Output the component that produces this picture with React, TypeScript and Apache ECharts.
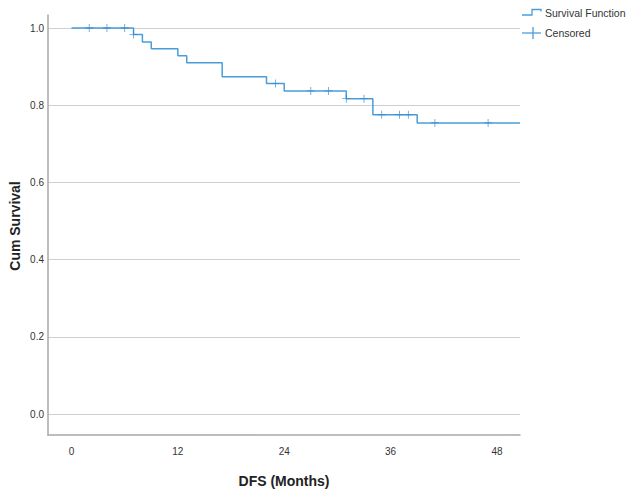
import React, { useEffect, useRef } from "react";
import * as echarts from "echarts";

// Kaplan-Meier step points: [month, survival after event]
const stepTimes = [0, 7, 8, 9, 12, 13, 17, 22, 24, 31, 34, 39, 50.6];
const stepSurvival = [1.0, 0.983, 0.964, 0.946, 0.928, 0.91, 0.874, 0.856, 0.837, 0.817, 0.775, 0.754, 0.754];

// Censored observations
const censorTimes = [2, 4, 6, 7, 23, 27, 29, 31, 33, 35, 37, 38, 41, 47];
const censorSurvival = [1.0, 1.0, 1.0, 0.983, 0.856, 0.837, 0.837, 0.817, 0.817, 0.775, 0.775, 0.775, 0.754, 0.754];

const xTicks = [0, 12, 24, 36, 48];
const yTicks = [0, 0.2, 0.4, 0.6, 0.8, 1.0];

const legendLabels = ["Survival Function", "Censored"];

const LINE_COLOR = "#4a9ddb";
const MARK_COLOR = "#2f86c9";
const FONT = "'Liberation Sans', Arial, sans-serif";

export default function App() {
  const ref = useRef<HTMLDivElement>(null);

  useEffect(() => {
    document.body.style.margin = "0";
    const chart = echarts.init(ref.current!, null, { renderer: "svg" });
    const cross =
      "path://M4.5,0h1v4.5h4.5v1h-4.5v4.5h-1v-4.5h-4.5v-1h4.5z";
    chart.setOption({
      animation: false,
      backgroundColor: "#ffffff",
      grid: { left: 48, right: 110, top: 15, bottom: 56, containLabel: false },
      xAxis: {
        type: "value",
        min: -2.65,
        max: 50.6,
        axisLine: { show: true, onZero: false, lineStyle: { color: "#a8a8a8", width: 1.5 } },
        axisTick: { show: false, customValues: xTicks },
        axisLabel: {
          customValues: xTicks,
          color: "#333",
          fontSize: 10,
          fontFamily: FONT,
          margin: 11,
        },
        splitLine: { show: false },
      },
      yAxis: {
        type: "value",
        min: -0.0544,
        max: 1.0337,
        axisLine: { show: true, onZero: false, lineStyle: { color: "#a8a8a8", width: 1.5 } },
        axisTick: { show: false, customValues: yTicks },
        axisLabel: {
          customValues: yTicks,
          color: "#333",
          fontSize: 10,
          fontFamily: FONT,
          margin: 4,
          formatter: (v: number) => v.toFixed(1),
        },
        splitLine: { show: true, lineStyle: { color: "#cfcfcf", width: 1 } },
      },
      graphic: [
        {
          type: "text",
          x: 15,
          y: 226,
          rotation: Math.PI / 2,
          style: {
            text: "Cum Survival",
            fill: "#222",
            font: `bold 14px ${FONT}`,
            align: "center",
            verticalAlign: "middle",
          },
        },
        {
          type: "text",
          x: 284,
          y: 481,
          style: {
            text: "DFS (Months)",
            fill: "#222",
            font: `bold 14px ${FONT}`,
            align: "center",
            verticalAlign: "middle",
          },
        },
        {
          type: "polyline",
          shape: { points: [[522, 15], [532, 15], [532, 9.5], [541, 9.5], [541, 11.5]] },
          style: { stroke: LINE_COLOR, lineWidth: 1.3, fill: "none" },
        },
        {
          type: "text",
          x: 545,
          y: 13,
          style: {
            text: legendLabels[0],
            fill: "#333",
            font: `10.5px ${FONT}`,
            align: "left",
            verticalAlign: "middle",
          },
        },
        {
          type: "line",
          shape: { x1: 522, y1: 33, x2: 541, y2: 33 },
          style: { stroke: LINE_COLOR, lineWidth: 1.3 },
        },
        {
          type: "line",
          shape: { x1: 533, y1: 27, x2: 533, y2: 39 },
          style: { stroke: LINE_COLOR, lineWidth: 1.3 },
        },
        {
          type: "text",
          x: 545,
          y: 33,
          style: {
            text: legendLabels[1],
            fill: "#333",
            font: `10.5px ${FONT}`,
            align: "left",
            verticalAlign: "middle",
          },
        },
      ],
      series: [
        {
          name: legendLabels[0],
          type: "line",
          step: "end",
          data: stepTimes.map((t, i) => [t, stepSurvival[i]]),
          showSymbol: false,
          symbol: "none",
          lineStyle: { color: LINE_COLOR, width: 1.5 },
          clip: true,
          z: 2,
        },
        {
          name: legendLabels[1],
          type: "scatter",
          data: censorTimes.map((t, i) => [t, censorSurvival[i]]),
          symbol: cross,
          symbolSize: 8,
          itemStyle: { color: MARK_COLOR },
          z: 3,
        },
      ],
    });
    return () => chart.dispose();
  }, []);

  return (
    <div
      ref={ref}
      style={{ position: "fixed", left: 0, top: 0, width: 630, height: 491 }}
    />
  );
}
